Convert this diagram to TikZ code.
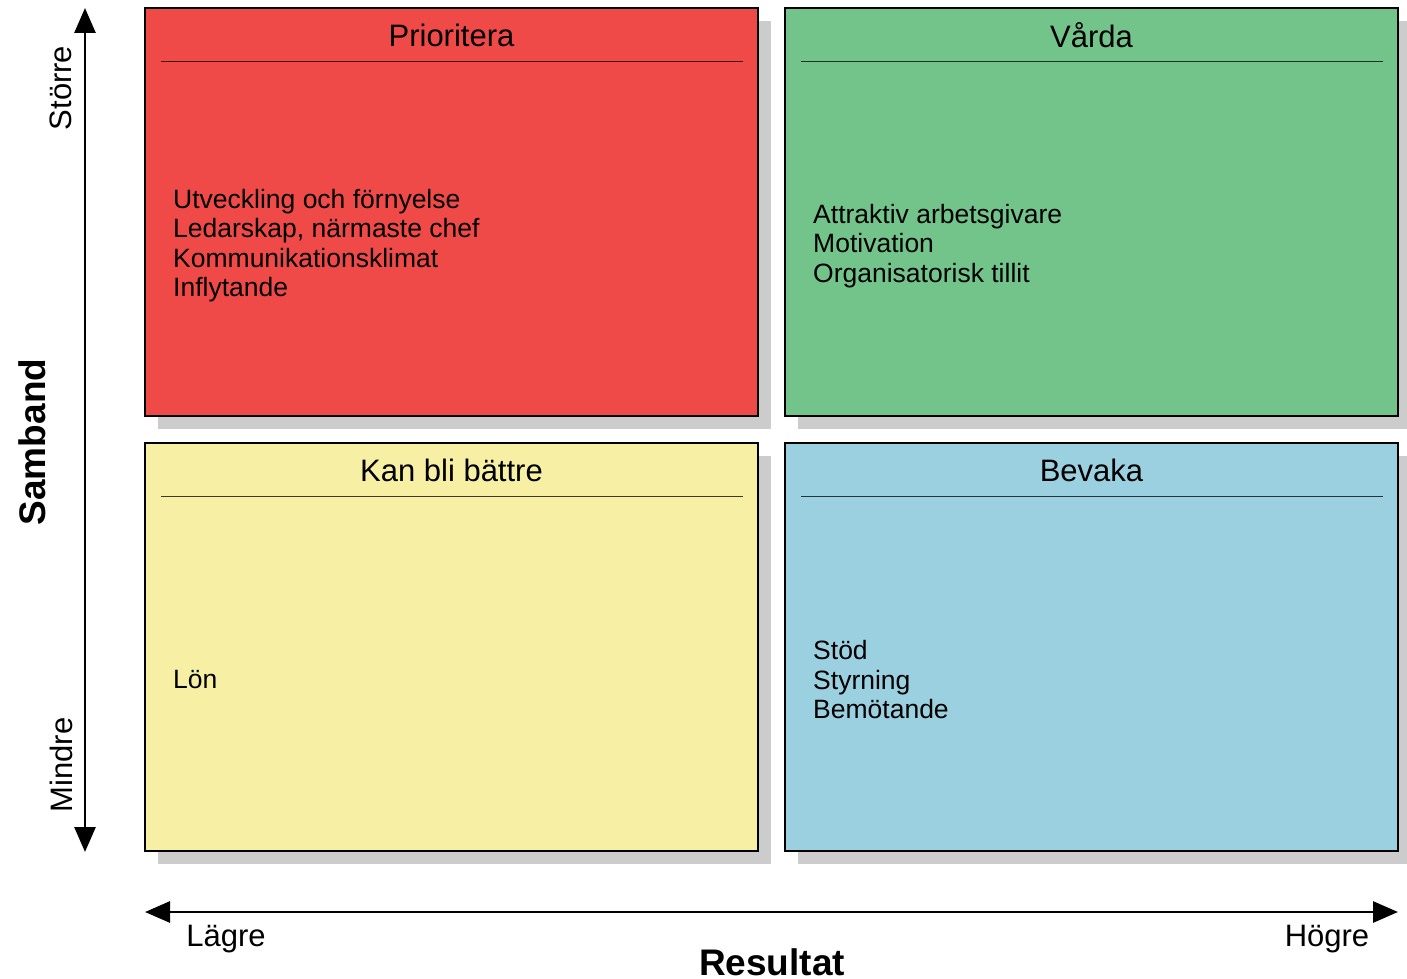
\documentclass[tikz,border=0pt]{standalone}
\usepackage{fontspec}
\setmainfont{Liberation Sans}
\usetikzlibrary{arrows.meta}
\definecolor{cred}{RGB}{239,74,71}
\definecolor{cgreen}{RGB}{114,196,138}
\definecolor{cyellow}{RGB}{247,239,163}
\definecolor{cblue}{RGB}{154,208,224}
\definecolor{cshadow}{RGB}{204,204,204}
\tikzset{
  quad/.style={draw=black, line width=2.8pt},
  shade/.style={fill=cshadow},
  titletxt/.style={font=\fontsize{31}{36}\selectfont, anchor=center, inner sep=0pt},
  rule/.style={draw=black, draw opacity=0.75, line width=0.9pt},
  bodytxt/.style={font=\fontsize{26.5}{29.5}\selectfont, align=left, anchor=west, inner sep=0pt},
  axlbl/.style={font=\fontsize{31}{36}\selectfont, inner sep=0pt},
  axtitle/.style={font=\fontsize{37}{42}\selectfont\bfseries, inner sep=0pt},
  axis/.style={line width=2.8pt, -{Triangle[length=25pt,width=21pt]}},
}
\begin{document}
\begin{tikzpicture}[x=1pt,y=-1pt]
\useasboundingbox (0,0) rectangle (1407,979);
% shadows
\fill[shade] (158,21) rectangle (771,429);
\fill[shade] (798,21) rectangle (1407,429);
\fill[shade] (158,456) rectangle (771,864);
\fill[shade] (798,456) rectangle (1407,864);
% boxes
\draw[quad, fill=cred] (145,8) rectangle (758,416);
\draw[quad, fill=cgreen] (785,8) rectangle (1398,416);
\draw[quad, fill=cyellow] (145,443) rectangle (758,851);
\draw[quad, fill=cblue] (785,443) rectangle (1398,851);
% titles
\node[titletxt] (t1) at (451.5,35) {Prioritera};
\node[titletxt] (t2) at (1091.5,35) {Vårda};
\node[titletxt] (t3) at (451.5,470) {Kan bli bättre};
\node[titletxt] (t4) at (1091.5,470) {Bevaka};
\draw[rule] (161,61) -- (743,61);
\draw[rule] (801,61) -- (1383,61);
\draw[rule] (161,496) -- (743,496);
\draw[rule] (801,496) -- (1383,496);
% body texts
\node[bodytxt] (b1) at (173,245.5) {Utveckling och förnyelse\\Ledarskap, närmaste chef\\Kommunikationsklimat\\Inflytande};
\node[bodytxt] (b2) at (813,246) {Attraktiv arbetsgivare\\Motivation\\Organisatorisk tillit};
\node[bodytxt] (b3) at (173,680) {Lön};
\node[bodytxt] (b4) at (813,680) {Stöd\\Styrning\\Bemötande};
% axes
\coordinate (vmid) at (85,430);
\coordinate (vtop) at (85,8);
\coordinate (vbot) at (85,852);
\draw[axis] (vmid) -- (vtop);
\draw[axis] (vmid) -- (vbot);
\coordinate (hmid) at (771,912);
\coordinate (hleft) at (145,912);
\coordinate (hright) at (1398,912);
\draw[axis] (hmid) -- (hleft);
\draw[axis] (hmid) -- (hright);
% axis labels
\node[axlbl, rotate=90] (storre) at (61,88) {Större};
\node[axlbl, rotate=90] (mindre) at (61,765) {Mindre};
\node[axtitle, rotate=90] (samband) at (32,442) {Samband};
\node[axlbl] (lagre) at (226,939) {Lägre};
\node[axlbl] (hogre) at (1327,939) {Högre};
\node[axtitle] (resultat) at (772,962) {Resultat};
\end{tikzpicture}
\end{document}
